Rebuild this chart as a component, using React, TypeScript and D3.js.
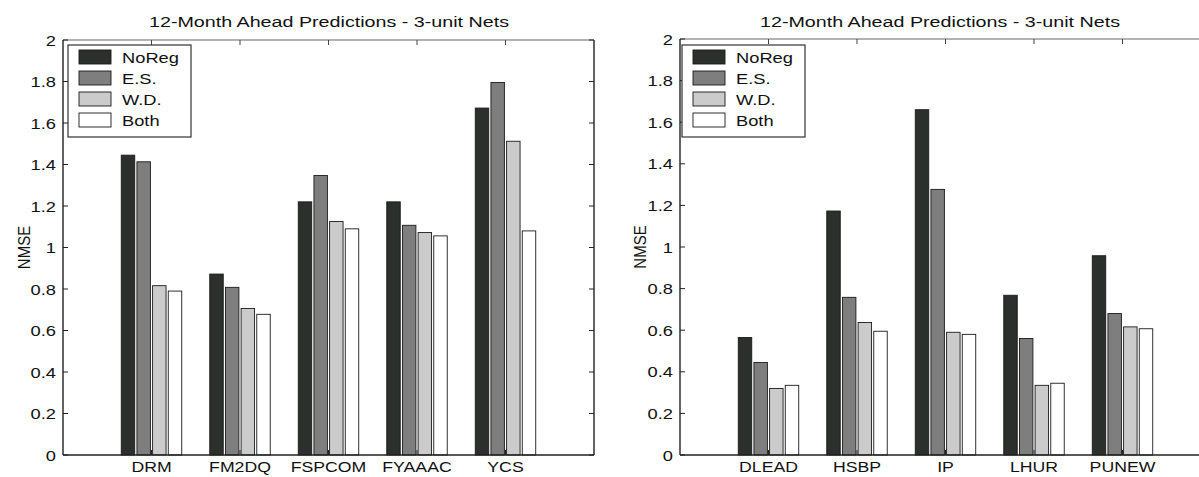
import React from "react";
import * as d3 from "d3";

const seriesNames = ["NoReg", "E.S.", "W.D.", "Both"];
const seriesColors = ["#2b302c", "#7e7e7e", "#cbcbcb", "#ffffff"];

const leftCategories = ["DRM", "FM2DQ", "FSPCOM", "FYAAAC", "YCS"];
const leftNoReg = [1.445, 0.872, 1.22, 1.22, 1.672];
const leftES = [1.413, 0.808, 1.347, 1.107, 1.795];
const leftWD = [0.816, 0.706, 1.125, 1.072, 1.512];
const leftBoth = [0.79, 0.678, 1.09, 1.056, 1.08];

const rightCategories = ["DLEAD", "HSBP", "IP", "LHUR", "PUNEW"];
const rightNoReg = [0.565, 1.173, 1.66, 0.768, 0.958];
const rightES = [0.445, 0.758, 1.277, 0.56, 0.68];
const rightWD = [0.32, 0.637, 0.59, 0.335, 0.616];
const rightBoth = [0.335, 0.595, 0.58, 0.345, 0.607];

const yTicks = [0, 0.2, 0.4, 0.6, 0.8, 1, 1.2, 1.4, 1.6, 1.8, 2];
const titleText = "12-Month Ahead Predictions - 3-unit Nets";
const yLabel = "NMSE";

const FONT = "'Liberation Sans', Arial, Helvetica, sans-serif";
const SX = 1.22;

function SText({ x, y, anchor = "start", size = 15, children, fill = "#111" }: any) {
  return (
    <text
      transform={`translate(${x},${y}) scale(${SX},1)`}
      textAnchor={anchor}
      fontSize={size}
      fontFamily={FONT}
      fill={fill}
    >
      {children}
    </text>
  );
}

function Panel({ left, right, top, bottom, categories, series, titleX, legendX, ylabelX }: any) {
  const x = d3.scaleLinear().domain([0, 6]).range([left, right]);
  const y = d3.scaleLinear().domain([0, 2]).range([bottom, top]);
  const step = 0.177;
  const bw = step * 0.86;
  const groups = categories.map((_: string, i: number) => i + 1);
  const legendY = 45;
  return (
    <g>
      <text
        x={titleX}
        y={27}
        textAnchor="middle"
        fontSize={15.5}
        fontFamily={FONT}
        fill="#111"
        textLength={360}
        lengthAdjust="spacingAndGlyphs"
      >
        {titleText}
      </text>
      {series.map((vals: number[], s: number) =>
        vals.map((v, i) => {
          const cx = groups[i] + (s - 1.5) * step;
          const x0 = x(cx - bw / 2);
          const x1 = x(cx + bw / 2);
          return (
            <rect
              key={`${s}-${i}`}
              x={x0}
              y={y(v)}
              width={x1 - x0}
              height={y(0) - y(v)}
              fill={seriesColors[s]}
              stroke="#1a1a1a"
              strokeWidth={0.9}
            />
          );
        })
      )}
      <line x1={left} x2={right} y1={top} y2={top} stroke="#666" strokeWidth={1.2} />
      <line x1={left} x2={right} y1={bottom} y2={bottom} stroke="#222" strokeWidth={1.4} />
      <line x1={left} x2={left} y1={top} y2={bottom} stroke="#222" strokeWidth={1.4} />
      <line x1={right} x2={right} y1={top} y2={bottom} stroke="#222" strokeWidth={1.4} />
      {yTicks.map((t) => (
        <g key={t}>
          <line x1={left} x2={left + 5} y1={y(t)} y2={y(t)} stroke="#222" strokeWidth={1} />
          <line x1={right} x2={right - 5} y1={y(t)} y2={y(t)} stroke="#222" strokeWidth={1} />
          <SText x={left - 7} y={y(t) + 5.5} anchor="end" size={15}>
            {String(t)}
          </SText>
        </g>
      ))}
      {groups.map((g: number, i: number) => (
        <g key={g}>
          <line x1={x(g)} x2={x(g)} y1={top} y2={top + 5} stroke="#444" strokeWidth={1} />
          <line x1={x(g)} x2={x(g)} y1={bottom} y2={bottom - 5} stroke="#222" strokeWidth={1} />
          <SText x={x(g)} y={472} anchor="middle" size={14.5}>
            {categories[i]}
          </SText>
        </g>
      ))}
      <text
        transform={`translate(${ylabelX},${(top + bottom) / 2}) rotate(-90) scale(1,1.15)`}
        textAnchor="middle"
        fontSize={15}
        fontFamily={FONT}
        fill="#111"
      >
        {yLabel}
      </text>
      <rect x={legendX} y={legendY} width={123} height={92} fill="#fff" stroke="#333" strokeWidth={1.2} />
      {seriesNames.map((n, s) => (
        <g key={n}>
          <rect
            x={legendX + 11}
            y={legendY + 5 + s * 21}
            width={32}
            height={14}
            fill={seriesColors[s]}
            stroke="#1a1a1a"
            strokeWidth={0.9}
          />
          <SText x={legendX + 54} y={legendY + 18 + s * 21} size={15}>
            {n}
          </SText>
        </g>
      ))}
    </g>
  );
}

export default function App() {
  return (
    <svg
      width={1199}
      height={477}
      style={{ position: "absolute", left: 0, top: 0, background: "#fff" }}
    >
      <rect width={1199} height={477} fill="#fff" />
      <Panel
        left={63}
        right={594}
        top={40}
        bottom={455}
        categories={leftCategories}
        series={[leftNoReg, leftES, leftWD, leftBoth]}
        titleX={329}
        legendX={68}
        ylabelX={30}
      />
      <Panel
        left={680}
        right={1211}
        top={39}
        bottom={455}
        categories={rightCategories}
        series={[rightNoReg, rightES, rightWD, rightBoth]}
        titleX={940}
        legendX={682}
        ylabelX={646}
      />
    </svg>
  );
}
